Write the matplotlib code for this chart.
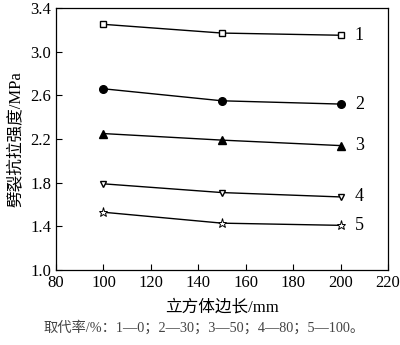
import matplotlib
matplotlib.use("Agg")
import matplotlib.pyplot as plt

# 立方体边长 / mm
edge = [100, 150, 200]

# 劈裂抗拉强度 / MPa, 按取代率分组
s1 = [3.25, 3.17, 3.15]
s2 = [2.66, 2.55, 2.52]
s3 = [2.25, 2.19, 2.14]
s4 = [1.79, 1.71, 1.67]
s5 = [1.53, 1.43, 1.41]
series = [s1, s2, s3, s4, s5]
labels = ["1", "2", "3", "4", "5"]

xticks = [80, 100, 120, 140, 160, 180, 200, 220]
yticks = [1.0, 1.4, 1.8, 2.2, 2.6, 3.0, 3.4]

plt.rcParams['font.family'] = ['Liberation Serif', 'Noto Sans CJK SC']

fig = plt.figure(figsize=(4.0, 3.45), dpi=100)
ax = fig.add_axes([0.14, 0.217, 0.83, 0.76])

# 线型：标记、填充、大小
styles = [
    dict(marker='s', mfc='white', ms=4.5),
    dict(marker='o', mfc='black', ms=5.5),
    dict(marker='^', mfc='black', ms=5.5),
    dict(marker='v', mfc='white', ms=4.5),
    dict(marker='*', mfc='white', ms=6.5, mew=0.7),
]

for ys, lab, st in zip(series, labels, styles):
    ax.plot(edge, ys, color='black', lw=1.0, mec='black', **st)
    ax.text(edge[-1] + 6, ys[-1], lab, fontsize=13, va='center', ha='left')

ax.set_xlim(80, 220)
ax.set_ylim(1.0, 3.4)
ax.set_xticks(xticks)
ax.set_yticks(yticks)
ax.set_yticklabels([f"{v:.1f}" for v in yticks])
ax.tick_params(direction='in', labelsize=12, length=4, width=0.8)
for sp in ax.spines.values():
    sp.set_linewidth(0.9)

ax.set_xlabel("立方体边长/mm", fontsize=12, labelpad=6)
ax.set_ylabel("劈裂抗拉强度/MPa", fontsize=12)
ax.yaxis.set_label_coords(-0.098, 0.5)

fig.text(0.51, 0.052, "取代率/%：1—0；2—30；3—50；4—80；5—100。",
         fontsize=10.3, color='#444444', ha='center', va='center')

fig.savefig("out.png", dpi=100)
